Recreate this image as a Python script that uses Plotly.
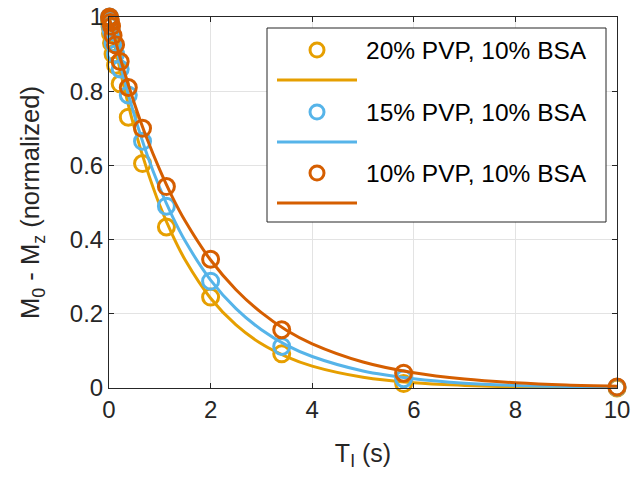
import plotly.graph_objects as go

# ---------------- data ----------------
ti = [0.01, 0.02, 0.03, 0.05, 0.08, 0.13, 0.22, 0.38, 0.66, 1.13, 2.0, 3.4, 5.8, 10]
m_20pvp = [0.99, 0.975, 0.955, 0.93, 0.90, 0.87, 0.82, 0.73, 0.605, 0.434, 0.245, 0.092, 0.012, 0.0]
m_15pvp = [1.0, 0.99, 0.975, 0.96, 0.93, 0.90, 0.86, 0.79, 0.665, 0.49, 0.288, 0.112, 0.025, 0.002]
m_10pvp = [1.0, 0.995, 0.985, 0.975, 0.95, 0.925, 0.88, 0.81, 0.70, 0.543, 0.347, 0.157, 0.04, 0.003]

fit_t = [0, 0.25, 0.5, 0.75, 1, 1.25, 1.5, 2, 2.5, 3, 3.5, 4, 5, 6, 7, 8, 9, 10]
fit_20pvp = [1.0, 0.838, 0.701, 0.588, 0.492, 0.412, 0.345, 0.242, 0.170, 0.119, 0.084, 0.059,
             0.029, 0.014, 0.007, 0.003, 0.002, 0.001]
fit_15pvp = [1.0, 0.857, 0.735, 0.629, 0.539, 0.462, 0.396, 0.291, 0.214, 0.157, 0.115, 0.085,
             0.046, 0.025, 0.013, 0.007, 0.004, 0.002]
fit_10pvp = [1.0, 0.876, 0.767, 0.671, 0.588, 0.514, 0.450, 0.345, 0.265, 0.203, 0.155, 0.119,
             0.070, 0.041, 0.024, 0.014, 0.008, 0.005]

labels = ["20% PVP, 10% BSA", "15% PVP, 10% BSA", "10% PVP, 10% BSA"]
colors = ["#E69F00", "#56B4E9", "#D55E00"]

x_ticks = [0, 2, 4, 6, 8, 10]
y_ticks = [0, 0.2, 0.4, 0.6, 0.8, 1]
y_ticklabels = ["0", "0.2", "0.4", "0.6", "0.8", "1"]

# ---------------- figure ----------------
FONT = "Liberation Sans, Arial, Helvetica, sans-serif"
AX = "#262626"

fig = go.Figure()
series = [(m_20pvp, fit_20pvp), (m_15pvp, fit_15pvp), (m_10pvp, fit_10pvp)]
for (meas, fit), lab, col in zip(series, labels, colors):
    fig.add_trace(go.Scatter(
        x=ti, y=meas, mode="markers", name=lab, showlegend=False, cliponaxis=False,
        marker=dict(symbol="circle-open", size=16, color=col, line=dict(width=3, color=col)),
    ))
    fig.add_trace(go.Scatter(
        x=fit_t, y=fit, mode="lines", name=lab + " fit", showlegend=False,
        line=dict(color=col, width=3, shape="spline"),
    ))

# ---------------- manual MATLAB-style legend ----------------
L, R, T, B = 109, 617, 17, 388  # plot area in pixels
def px(x):
    return (x - L) / (R - L)
def py(y):
    return (B - y) / (B - T)

shapes = [dict(type="rect", xref="paper", yref="paper",
               x0=px(267), x1=px(606), y0=py(222), y1=py(28),
               line=dict(color=AX, width=1), fillcolor="white", layer="above")]
annotations = []
marker_rows = [50, 112, 173]
line_rows = [80, 142, 203]
for lab, col, my, ly in zip(labels, colors, marker_rows, line_rows):
    r = 7
    shapes.append(dict(type="circle", xref="paper", yref="paper",
                       x0=px(317 - r), x1=px(317 + r), y0=py(my + r), y1=py(my - r),
                       line=dict(color=col, width=3), layer="above"))
    shapes.append(dict(type="line", xref="paper", yref="paper",
                       x0=px(277), x1=px(357), y0=py(ly), y1=py(ly),
                       line=dict(color=col, width=3), layer="above"))
    annotations.append(dict(xref="paper", yref="paper", x=px(364), y=py(my),
                            xanchor="left", yanchor="middle", showarrow=False,
                            text=lab, font=dict(family=FONT, size=24.5, color="#000000")))

fig.update_layout(
    width=631, height=480,
    margin=dict(l=L, r=631 - R, t=T, b=480 - B, autoexpand=False),
    paper_bgcolor="white", plot_bgcolor="white",
    font=dict(family=FONT, color=AX),
    shapes=shapes, annotations=annotations,
    xaxis=dict(
        range=[0, 10], tickvals=x_ticks, ticks="inside", ticklen=5, tickcolor=AX,
        showline=True, linecolor=AX, linewidth=1, mirror="ticks",
        showgrid=True, gridcolor="#e3e3e3", gridwidth=1, zeroline=False, automargin=False,
        tickfont=dict(size=24, color=AX, family=FONT),
        title=dict(text="T<sub>I</sub> (s)", font=dict(size=25, color=AX, family=FONT), standoff=22),
    ),
    yaxis=dict(
        range=[0, 1], tickvals=y_ticks, ticktext=y_ticklabels, ticks="inside", ticklen=5, tickcolor=AX,
        showline=True, linecolor=AX, linewidth=1, mirror="ticks",
        showgrid=True, gridcolor="#e3e3e3", gridwidth=1, zeroline=False, automargin=False,
        tickfont=dict(size=24, color=AX, family=FONT),
        title=dict(text="M<sub>0</sub> - M<sub>z</sub> (normalized)", font=dict(size=25.5, color=AX, family=FONT), standoff=22),
    ),
)

fig.write_html("out.html")
